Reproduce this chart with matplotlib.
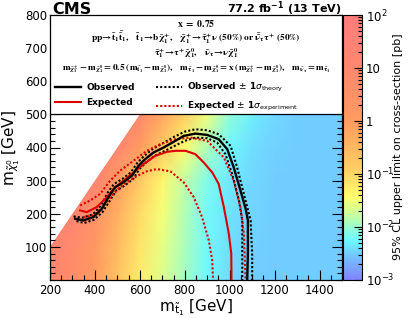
import numpy as np
import matplotlib
matplotlib.use("Agg")
import matplotlib.pyplot as plt
from matplotlib.colors import LinearSegmentedColormap, LogNorm
from matplotlib.patches import Rectangle
from matplotlib.lines import Line2D
from matplotlib.ticker import MultipleLocator, FixedLocator, LogLocator

#Grid of the limit map (GeV) and log10 of the 95% CL upper limit [pb], one row per m_LSP
mstop_grid = [200, 300, 400, 500, 600, 700, 800, 900, 1000, 1100, 1200, 1300, 1400, 1500]
mlsp_grid = [0, 100, 200, 300, 400, 500, 600, 700, 800]
log_limit = [
    [1.0, 0.7, 0.0, -0.7, -1.25, -1.65, -1.95, -2.25, -2.42, -2.5, -2.5, -2.5, -2.5, -2.5],
    [1.3, 0.8, 0.2, -0.55, -1.15, -1.58, -1.92, -2.22, -2.4, -2.48, -2.5, -2.5, -2.5, -2.5],
    [1.5, 1.3, 0.5, -0.35, -1.05, -1.5, -1.88, -2.2, -2.38, -2.46, -2.5, -2.5, -2.5, -2.5],
    [1.5, 1.5, 1.3, 0.0, -0.8, -1.35, -1.8, -2.15, -2.35, -2.45, -2.5, -2.5, -2.5, -2.5],
    [1.5, 1.5, 1.5, 1.2, 0.0, -0.8, -1.4, -1.9, -2.25, -2.4, -2.48, -2.5, -2.5, -2.5],
    [1.5, 1.5, 1.5, 1.5, 1.0, -0.2, -0.9, -1.55, -2.05, -2.3, -2.45, -2.5, -2.5, -2.5],
    [1.5, 1.5, 1.5, 1.5, 1.5, 1.0, 0.0, -0.8, -1.5, -2.0, -2.3, -2.45, -2.5, -2.5],
    [1.5, 1.5, 1.5, 1.5, 1.5, 1.5, 1.0, 0.0, -0.8, -1.5, -2.0, -2.3, -2.45, -2.5],
    [1.5, 1.5, 1.5, 1.5, 1.5, 1.5, 1.5, 1.0, 0.0, -0.8, -1.5, -2.0, -2.3, -2.45],
]
dm_min = 100  # kinematic edge: m_LSP <= m_stop - 100

#Exclusion contours (m_stop, m_LSP)
obs_x = [312, 349, 393, 431, 460, 490, 527, 565, 594, 624, 661, 706, 758, 795, 847, 900, 951, 989, 1018, 1048, 1071, 1081, 1081, 1078]
obs_y = [185, 180, 190, 215, 250, 280, 295, 315, 345, 365, 385, 400, 420, 435, 442, 438, 425, 395, 340, 270, 215, 180, 80, 0]
obs_up_x = [305, 345, 390, 428, 455, 485, 522, 560, 590, 620, 656, 700, 752, 800, 847, 900, 951, 1004, 1033, 1063, 1093, 1100, 1100]
obs_up_y = [192, 188, 198, 225, 262, 290, 305, 325, 355, 375, 395, 412, 432, 448, 455, 452, 440, 405, 340, 260, 180, 80, 0]
obs_dn_x = [318, 352, 396, 434, 465, 495, 532, 570, 598, 628, 666, 712, 764, 800, 847, 900, 944, 981, 1011, 1041, 1056, 1056, 1056]
obs_dn_y = [178, 172, 182, 205, 238, 270, 285, 305, 335, 355, 375, 390, 408, 420, 430, 428, 415, 380, 320, 240, 180, 80, 0]
exp_x = [334, 364, 408, 446, 483, 527, 572, 617, 669, 721, 760, 803, 847, 884, 922, 951, 974, 996, 1007, 1008]
exp_y = [210, 205, 220, 245, 275, 300, 325, 350, 375, 387, 390, 390, 380, 355, 325, 290, 220, 140, 80, 0]
exp_up_x = [334, 379, 423, 468, 512, 572, 631, 691, 758, 825, 900, 974, 1018, 1048, 1063, 1071]
exp_up_y = [225, 240, 260, 300, 330, 360, 390, 410, 425, 430, 420, 370, 300, 220, 140, 0]
exp_dn_x = [349, 393, 438, 468, 512, 542, 590, 630, 676, 736, 795, 840, 877, 907, 922, 926]
exp_dn_y = [190, 195, 222, 250, 280, 295, 315, 328, 335, 328, 295, 250, 190, 120, 60, 0]

x_ticks = [200, 400, 600, 800, 1000, 1200, 1400]
y_ticks = [100, 200, 300, 400, 500, 600, 700, 800]
cb_ticks = [1e-3, 1e-2, 1e-1, 1, 10, 100]
cb_labels = [r"$10^{-3}$", r"$10^{-2}$", r"$10^{-1}$", "1", "10", r"$10^{2}$"]

#Pastel ROOT-like palette
palette = [
    (0.00, (130, 130, 255)), (0.08, (115, 190, 255)), (0.15, (110, 250, 255)),
    (0.24, (195, 255, 165)), (0.31, (255, 255, 110)), (0.42, (255, 205, 100)),
    (0.60, (255, 155, 95)), (0.80, (255, 135, 110)), (1.00, (255, 125, 125)),
]
cmap = LinearSegmentedColormap.from_list(
    "pastel", [(p, tuple(c / 255 for c in rgb)) for p, rgb in palette])

plt.rcParams["font.family"] = "DejaVu Sans"

fig = plt.figure(figsize=(4.11, 3.18), dpi=100)
ax = fig.add_axes([50 / 411, 38 / 318, 292 / 411, 265 / 318])
cax = fig.add_axes([343 / 411, 38 / 318, 19 / 411, 265 / 318])

limits = 10 ** np.array(log_limit)
mesh = ax.pcolormesh(mstop_grid, mlsp_grid, limits, shading="gouraud",
                     cmap=cmap, norm=LogNorm(1e-3, 1e2), zorder=0)
diag = np.array(mstop_grid) - dm_min
ax.fill_between(mstop_grid, diag, 800, color="white", zorder=1, lw=0)

dot = (0, (1, 1))
red = "#dd0000"
ax.plot(obs_up_x, obs_up_y, color="black", ls=dot, lw=1.5, zorder=2)
ax.plot(obs_dn_x, obs_dn_y, color="black", ls=dot, lw=1.5, zorder=2)
ax.plot(exp_up_x, exp_up_y, color=red, ls=dot, lw=1.5, zorder=2)
ax.plot(exp_dn_x, exp_dn_y, color=red, ls=dot, lw=1.5, zorder=2)
ax.plot(exp_x, exp_y, color=red, lw=1.5, zorder=2)
ax.plot(obs_x, obs_y, color="black", lw=1.7, zorder=2)

ax.set_xlim(200, 1500)
ax.set_ylim(0, 800)

#White header box with the model description
ax.add_patch(Rectangle((0, 0.625), 1, 0.375, transform=ax.transAxes,
                       facecolor="white", edgecolor="black", lw=0.9, zorder=3))
txt = dict(transform=ax.transAxes, ha="center", va="center", zorder=4,
           math_fontfamily="stix")
ax.text(0.5, 0.968, r"$\mathbf{x\ =\ 0.75}$", fontsize=7.0, **txt)
ax.text(0.5, 0.913, r"$\mathbf{pp\!\rightarrow\!\tilde{t}_{1}\bar{\tilde{t}}_{1},\quad \tilde{t}_{1}\!\rightarrow\!b\tilde{\chi}^{+}_{1},\quad \tilde{\chi}^{+}_{1}\!\rightarrow\!\tilde{\tau}^{+}_{1}\nu\ (50\%)\ or\ \bar{\tilde{\nu}}_{\tau}\tau^{+}\ (50\%)}$", fontsize=6.8, **txt)
ax.text(0.5, 0.856, r"$\mathbf{\tilde{\tau}^{+}_{1}\!\rightarrow\!\tau^{+}\tilde{\chi}^{0}_{1},\quad \tilde{\nu}_{\tau}\!\rightarrow\!\nu\tilde{\chi}^{0}_{1}}$", fontsize=6.8, **txt)
ax.text(0.5, 0.798, r"$\mathbf{m_{\tilde{\chi}^{\pm}_{1}} - m_{\tilde{\chi}^{0}_{1}} = 0.5\ (m_{\tilde{t}_{1}} - m_{\tilde{\chi}^{0}_{1}}),\quad m_{\tilde{\tau}_{1}} - m_{\tilde{\chi}^{0}_{1}} = x\ (m_{\tilde{\chi}^{\pm}_{1}} - m_{\tilde{\chi}^{0}_{1}}),\quad m_{\tilde{\nu}_{\tau}} = m_{\tilde{\tau}_{1}}}$", fontsize=6.7, **txt)

handles = [
    Line2D([], [], color="black", lw=1.7),
    Line2D([], [], color=red, lw=1.5),
    Line2D([], [], color="black", ls=dot, lw=1.5),
    Line2D([], [], color=red, ls=dot, lw=1.5),
]
labels = ["Observed", "Expected",
          r"Observed $\pm$ 1$\sigma_{\mathrm{theory}}$",
          r"Expected $\pm$ 1$\sigma_{\mathrm{experiment}}$"]
leg = ax.legend(handles, labels, ncol=2, loc="upper left",
                bbox_to_anchor=(0.0, 0.77), frameon=False, handlelength=2.8,
                columnspacing=2.4, labelspacing=0.65, handletextpad=0.6,
                prop=dict(size=6.5, weight="bold"), borderaxespad=0.2)
leg.set_zorder(5)

ax.set_xticks(x_ticks)
ax.set_yticks(y_ticks)
ax.xaxis.set_minor_locator(MultipleLocator(50))
ax.yaxis.set_minor_locator(MultipleLocator(20))
ax.tick_params(which="both", direction="in", top=True, right=True,
               labelsize=8.5, width=0.8)
ax.tick_params(which="major", length=7)
ax.tick_params(which="minor", length=3.5)
ax.tick_params(axis="x", pad=3)
ax.tick_params(axis="y", pad=2)
for s in ax.spines.values():
    s.set_linewidth(0.9)

ax.set_xlabel(r"$\mathrm{m}_{\tilde{\mathrm{t}}_{1}}$ [GeV]", fontsize=11, labelpad=0)
ax.set_ylabel(r"$\mathrm{m}_{\tilde{\chi}^{0}_{1}}$ [GeV]", fontsize=11, labelpad=2)

fig.text(52 / 411, 1 - 14 / 318, "CMS", fontsize=11.5, weight="bold",
         ha="left", va="baseline")
fig.text(341 / 411, 1 - 13 / 318, r"77.2 fb$^{\mathbf{-1}}$ (13 TeV)", fontsize=8.0,
         weight="bold", ha="right", va="baseline")

cb = fig.colorbar(mesh, cax=cax)
cb.outline.set_linewidth(0.8)
cax.yaxis.set_major_locator(FixedLocator(cb_ticks))
cax.set_yticklabels(cb_labels)
cax.yaxis.set_minor_locator(LogLocator(base=10, subs=np.arange(2, 10)))
cax.tick_params(which="both", direction="in", right=True, labelsize=8.5, width=0.8, pad=3)
cax.tick_params(which="major", length=6)
cax.tick_params(which="minor", length=3)
fig.text(398 / 411, 0.5 + 12 / 318, "95% CL upper limit on cross-section [pb]",
         rotation=90, fontsize=8, ha="center", va="center")

fig.savefig("out.png", dpi=100)
